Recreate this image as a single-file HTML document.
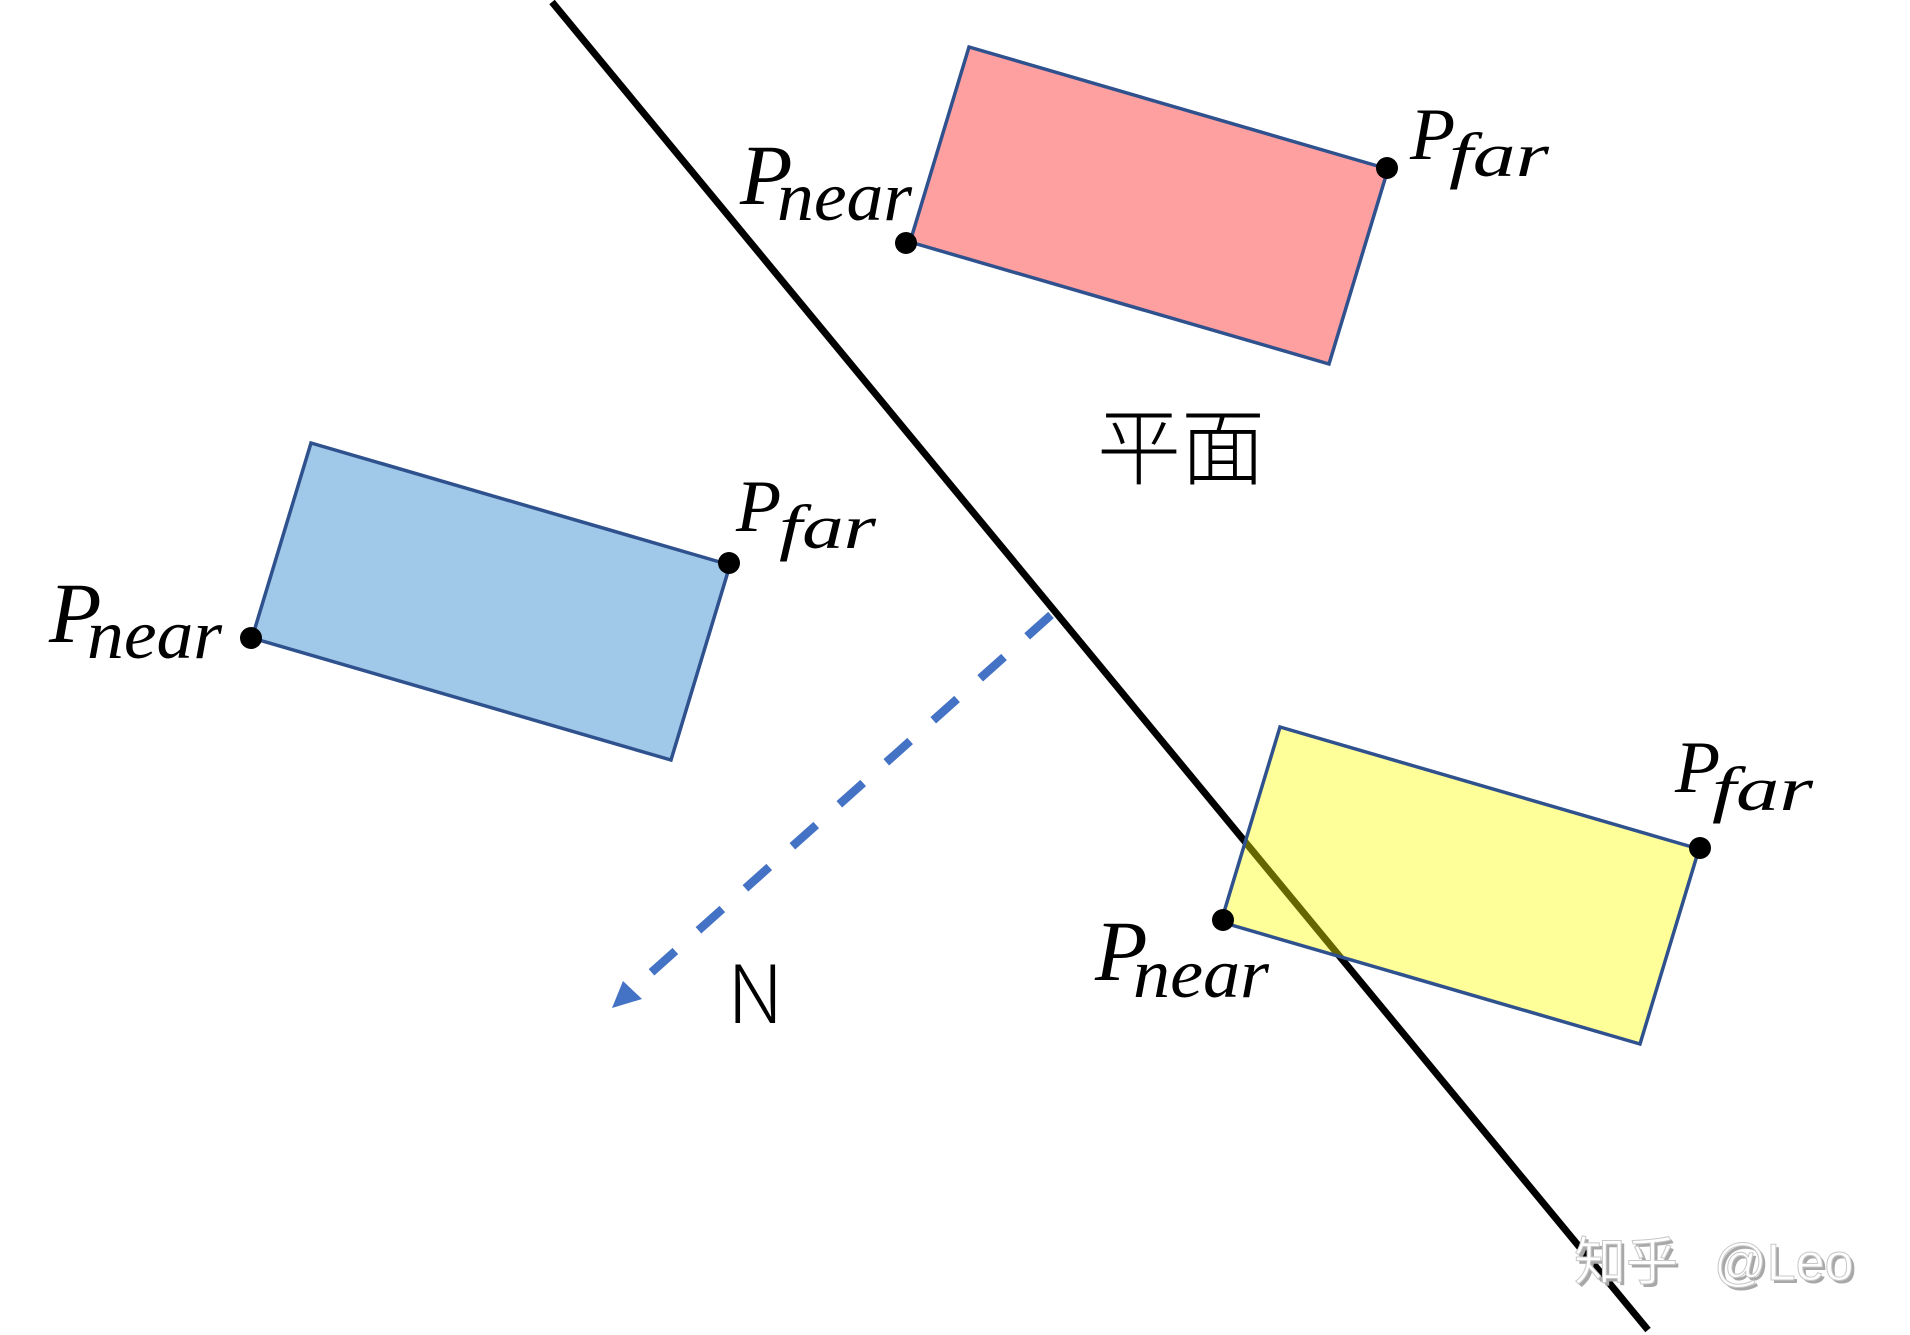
<!DOCTYPE html>
<html>
<head>
<meta charset="utf-8">
<style>
  html, body { margin: 0; padding: 0; background: #ffffff; }
  body { width: 1910px; height: 1335px; overflow: hidden; }
  svg { display: block; }
  .it { font-family: "Liberation Serif", serif; font-style: italic; fill: #000; }
</style>
</head>
<body>
<svg width="1910" height="1335" viewBox="0 0 1910 1335" xmlns="http://www.w3.org/2000/svg">
  <rect x="0" y="0" width="1910" height="1335" fill="#ffffff"/>

  <!-- Red rectangle -->
  <polygon points="910,242 969,47 1388,169 1329,364" fill="#FFA0A0" stroke="#2F528F" stroke-width="3.5" stroke-linejoin="miter"/>
  <!-- Blue rectangle -->
  <polygon points="252,638 311,443 730,565 671,760" fill="#A0C8E8" stroke="#2F528F" stroke-width="3.5" stroke-linejoin="miter"/>

  <!-- Plane line -->
  <line x1="552" y1="2" x2="1648" y2="1330" stroke="#000" stroke-width="7"/>

  <!-- Yellow rectangle (semi-transparent over the line) -->
  <polygon points="1221,922 1280,727 1699,849 1640,1044" fill="rgba(255,255,0,0.4)" stroke="#2F528F" stroke-width="3.5" stroke-linejoin="miter"/>

  <!-- Dashed normal arrow -->
  <line x1="1051" y1="615" x2="634" y2="988" stroke="#4472C4" stroke-width="8.5" stroke-dasharray="32 31"/>
  <polygon points="612,1008 623,981 642,999" fill="#4472C4"/>

  <!-- Dots -->
  <circle cx="906" cy="243" r="11" fill="#000"/>
  <circle cx="1387" cy="168" r="11" fill="#000"/>
  <circle cx="251" cy="638" r="11" fill="#000"/>
  <circle cx="729" cy="563" r="11" fill="#000"/>
  <circle cx="1223" cy="920" r="11" fill="#000"/>
  <circle cx="1700" cy="848" r="11" fill="#000"/>

  <!-- Red labels -->
  <text class="it" x="740" y="204" font-size="86">P</text>
  <text class="it" x="777" y="220" font-size="70" textLength="135" lengthAdjust="spacingAndGlyphs">near</text>
  <text class="it" x="1410" y="159" font-size="74">P</text>
  <text class="it" x="1449" y="176" font-size="62" textLength="100" lengthAdjust="spacingAndGlyphs">far</text>

  <!-- Blue labels -->
  <text class="it" x="49" y="642" font-size="86">P</text>
  <text class="it" x="87" y="658" font-size="70" textLength="135" lengthAdjust="spacingAndGlyphs">near</text>
  <text class="it" x="736" y="531" font-size="74">P</text>
  <text class="it" x="779" y="548" font-size="62" textLength="97" lengthAdjust="spacingAndGlyphs">far</text>

  <!-- Yellow labels -->
  <text class="it" x="1095" y="980" font-size="86">P</text>
  <text class="it" x="1133" y="997" font-size="70" textLength="136" lengthAdjust="spacingAndGlyphs">near</text>
  <text class="it" x="1675" y="792" font-size="74">P</text>
  <text class="it" x="1712" y="810" font-size="62" textLength="101" lengthAdjust="spacingAndGlyphs">far</text>

  <!-- Plane label -->
  <text x="1097" y="478" font-size="84" font-weight="300" letter-spacing="0" fill="#000" style="font-family: 'Noto Sans CJK SC', 'WenQuanYi Zen Hei', sans-serif;">平面</text>

  <!-- N -->
  <text x="727" y="1023" font-size="80" font-weight="300" fill="#000" style="font-family: 'Noto Sans CJK SC', 'Liberation Sans', sans-serif;">N</text>

  <!-- Watermark -->
  <g style="font-family: 'Liberation Sans', 'Noto Sans CJK SC', sans-serif;" font-size="52">
    <text x="1577" y="1283" fill="#a8a8a8">知乎</text>
    <text x="1717" y="1283" fill="#a8a8a8">@Leo</text>
    <text x="1574" y="1280" fill="#ffffff" stroke="#c8c8c8" stroke-width="1">知乎</text>
    <text x="1714" y="1280" fill="#ffffff" stroke="#c8c8c8" stroke-width="1">@Leo</text>
  </g>
</svg>
</body>
</html>
